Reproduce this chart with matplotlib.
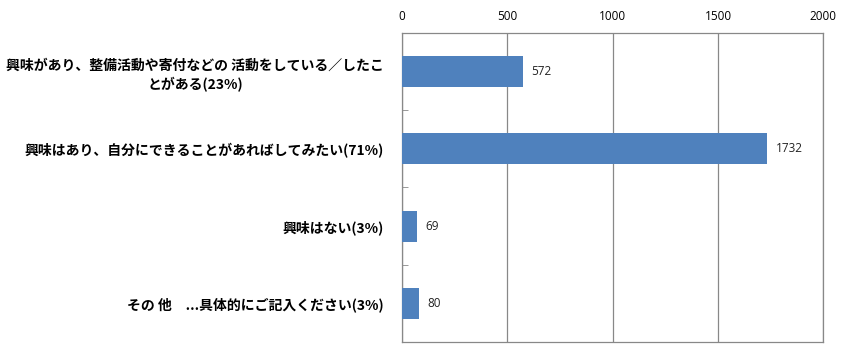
import matplotlib
matplotlib.use('Agg')
import matplotlib.pyplot as plt

plt.rcParams['font.family'] = ['Noto Sans CJK JP', 'DejaVu Sans']

# データ
categories = [
    '興味があり、整備活動や寄付などの 活動をしている／したこ\nとがある(23%)',
    '興味はあり、自分にできることがあればしてみたい(71%)',
    '興味はない(3%)',
    'その 他　...具体的にご記入ください(3%)',
]
counts = [572, 1732, 69, 80]
xticks = [0, 500, 1000, 1500, 2000]

bar_color = '#4F81BD'
frame_color = '#888888'

fig = plt.figure(figsize=(8.41, 3.57), dpi=100)
ax = fig.add_axes([0.478, 0.042, 0.501, 0.866])

y = list(range(len(categories)))
ax.barh(y, counts, height=0.4, color=bar_color, zorder=3)

# 値ラベル
for yi, v in zip(y, counts):
    ax.text(v + 42, yi, str(v), va='center', ha='left', fontsize=8.5,
            family=['Open Sans', 'DejaVu Sans'], color='#222222')

ax.set_xlim(0, 2000)
ax.set_ylim(len(categories) - 0.5, -0.5)
ax.set_xticks(xticks)
ax.xaxis.tick_top()
ax.tick_params(axis='x', length=0, labelsize=8.5, pad=7)
for lbl in ax.get_xticklabels():
    lbl.set_family(['Open Sans', 'DejaVu Sans'])

ax.set_yticks(y)
ax.set_yticklabels(categories, fontsize=10, fontweight='bold', multialignment='center',
                   linespacing=1.35)
ax.tick_params(axis='y', which='major', length=0, pad=13)
ax.set_yticks([i + 0.5 for i in y[:-1]], minor=True)
ax.tick_params(axis='y', which='minor', direction='in', length=4, color=frame_color)

ax.grid(axis='x', color=frame_color, linewidth=0.9, zorder=0)
for s in ax.spines.values():
    s.set_color(frame_color)
    s.set_linewidth(0.9)

plt.savefig('out.png', dpi=100)
plt.close()
